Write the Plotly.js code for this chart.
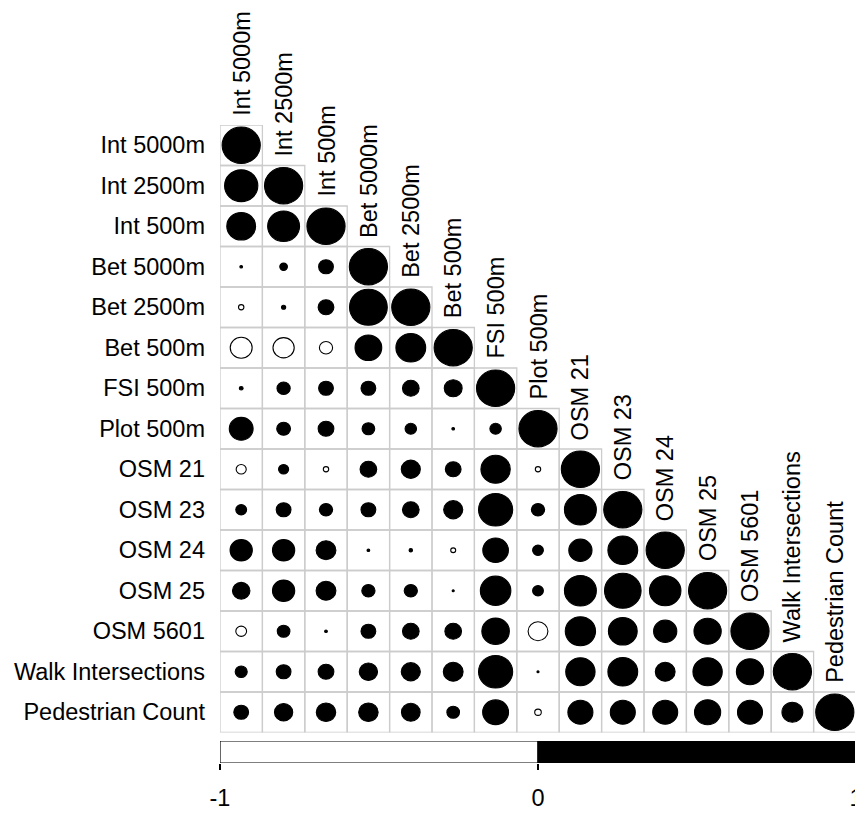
<!DOCTYPE html>
<html><head><meta charset="utf-8">
<script src="https://cdn.plot.ly/plotly-3.0.1.min.js"></script>
<style>
html,body{margin:0;padding:0;overflow:hidden;background:#fff;width:855px;height:838px}
#chart{width:858px;height:838px}
</style>
</head><body><div id="chart"></div>
<script>
// Variable names (rows / columns of the correlation matrix)
const variables = ["Int 5000m","Int 2500m","Int 500m","Bet 5000m","Bet 2500m","Bet 500m",
  "FSI 500m","Plot 500m","OSM 21","OSM 23","OSM 24","OSM 25","OSM 5601",
  "Walk Intersections","Pedestrian Count"];

// Lower-triangular correlations, each row ends with its diagonal (1)
const row01 = [1];
const row02 = [0.76, 1];
const row03 = [0.57, 0.70, 1];
const row04 = [0.005, 0.04, 0.15, 1];
const row05 = [-0.02, 0.012, 0.17, 0.98, 1];
const row06 = [-0.33, -0.31, -0.12, 0.49, 0.61, 1];
const row07 = [0.01, 0.12, 0.15, 0.15, 0.19, 0.22, 1];
const row08 = [0.39, 0.13, 0.17, 0.11, 0.09, 0.005, 0.09, 1];
const row09 = [-0.07, 0.07, -0.02, 0.19, 0.25, 0.17, 0.59, -0.02, 1];
const row10 = [0.08, 0.15, 0.12, 0.15, 0.19, 0.25, 0.80, 0.12, 0.70, 1];
const row11 = [0.34, 0.34, 0.27, 0.005, 0.008, -0.017, 0.45, 0.08, 0.37, 0.61, 1];
const row12 = [0.21, 0.34, 0.27, 0.12, 0.12, 0.003, 0.64, 0.08, 0.70, 0.92, 0.68, 1];
const row13 = [-0.08, 0.11, 0.005, 0.15, 0.19, 0.19, 0.52, -0.27, 0.63, 0.57, 0.37, 0.51, 1];
const row14 = [0.10, 0.15, 0.17, 0.23, 0.25, 0.27, 0.80, 0.003, 0.59, 0.61, 0.27, 0.59, 0.51, 1];
const row15 = [0.15, 0.23, 0.26, 0.26, 0.24, 0.11, 0.46, -0.03, 0.43, 0.43, 0.43, 0.47, 0.43, 0.30, 1];
const corrRows = [row01,row02,row03,row04,row05,row06,row07,row08,row09,row10,row11,row12,row13,row14,row15];

// Colour legend
const legendTicks = [-1, 0, 1];
const legendTickText = ["-1", "0", "1"];

const FONT = "Liberation Sans, Arial, sans-serif";
const FS = 23.5;
const n = variables.length;
const gridShapes = [];
const circleShapes = [];
corrRows.forEach((row, i) => {
  row.forEach((r, j) => {
    const cx = j + 1, cy = i + 1;
    gridShapes.push({type:'rect', xref:'x', yref:'y', x0:cx-0.5, x1:cx+0.5, y0:cy-0.5, y1:cy+0.5,
      line:{color:'#cccccc', width:1.3}, fillcolor:'rgba(0,0,0,0)', layer:'above'});
    const rad = 0.45 * Math.sqrt(Math.abs(r));
    circleShapes.push({type:'circle', xref:'x', yref:'y', x0:cx-rad, x1:cx+rad, y0:cy-rad, y1:cy+rad,
      fillcolor: r >= 0 ? '#000000' : '#ffffff', line:{color:'#000000', width:1.1}, layer:'above'});
  });
});
const shapes = [...gridShapes, ...circleShapes];
// colour legend bar
shapes.push({type:'rect', xref:'x2', yref:'y2', x0:legendTicks[0], x1:legendTicks[1], y0:0, y1:1,
  fillcolor:'#ffffff', line:{color:'#000', width:1.2}});
shapes.push({type:'rect', xref:'x2', yref:'y2', x0:legendTicks[1], x1:legendTicks[2], y0:0, y1:1,
  fillcolor:'#000000', line:{color:'#000', width:1.2}});

const annotations = variables.map((v, k) => ({
  text: v, x: k + 1, y: k + 0.5, xref:'x', yref:'y', showarrow:false,
  textangle:-90, xanchor:'center', yanchor:'bottom', yshift:7,
  font:{family:FONT, size:FS, color:'#000'}
}));

const H = 838, T = 125, B = 75;
const plotH = H - T - B;      // 638
const gridPx = 607.5;
const barPx = 22;

const layout = {
  width: 858, height: 838,
  margin:{l:220, r:2, t:T, b:B},
  paper_bgcolor:'#fff', plot_bgcolor:'rgba(0,0,0,0)',
  showlegend:false,
  xaxis:{domain:[0,1], range:[0.5, n+0.5], showgrid:false, zeroline:false, showticklabels:false,
         ticks:'', showline:false, anchor:'y', fixedrange:true},
  yaxis:{domain:[(plotH-gridPx)/plotH, 1], range:[n+0.5, 0.5], showgrid:false, zeroline:false,
         tickmode:'array', tickvals: variables.map((v,k)=>k+1), ticktext: variables,
         ticks:'', ticklabelstandoff:14, showline:false, anchor:'x',
         tickfont:{family:FONT, size:FS, color:'#000'}, fixedrange:true},
  xaxis2:{domain:[0,1], range:[-1, 1], anchor:'y2', showgrid:false, zeroline:false, showline:false,
          tickmode:'array', tickvals: legendTicks, ticktext: legendTickText,
          ticks:'outside', ticklen:6, tickwidth:1.2, tickcolor:'#000', ticklabelstandoff:8,
          ticklabeloverflow:'allow',
          tickfont:{family:FONT, size:FS, color:'#000'}, fixedrange:true},
  yaxis2:{domain:[0, barPx/plotH], range:[0,1], anchor:'x2', showgrid:false, zeroline:false,
          showticklabels:false, ticks:'', fixedrange:true},
  shapes: shapes,
  annotations: annotations
};

const traces = [
  {type:'scatter', x:[], y:[], xaxis:'x', yaxis:'y', hoverinfo:'skip'},
  {type:'scatter', x:[], y:[], xaxis:'x2', yaxis:'y2', hoverinfo:'skip'}
];
Plotly.newPlot('chart', traces, layout, {displayModeBar:false, staticPlot:true});
</script>
</body></html>
